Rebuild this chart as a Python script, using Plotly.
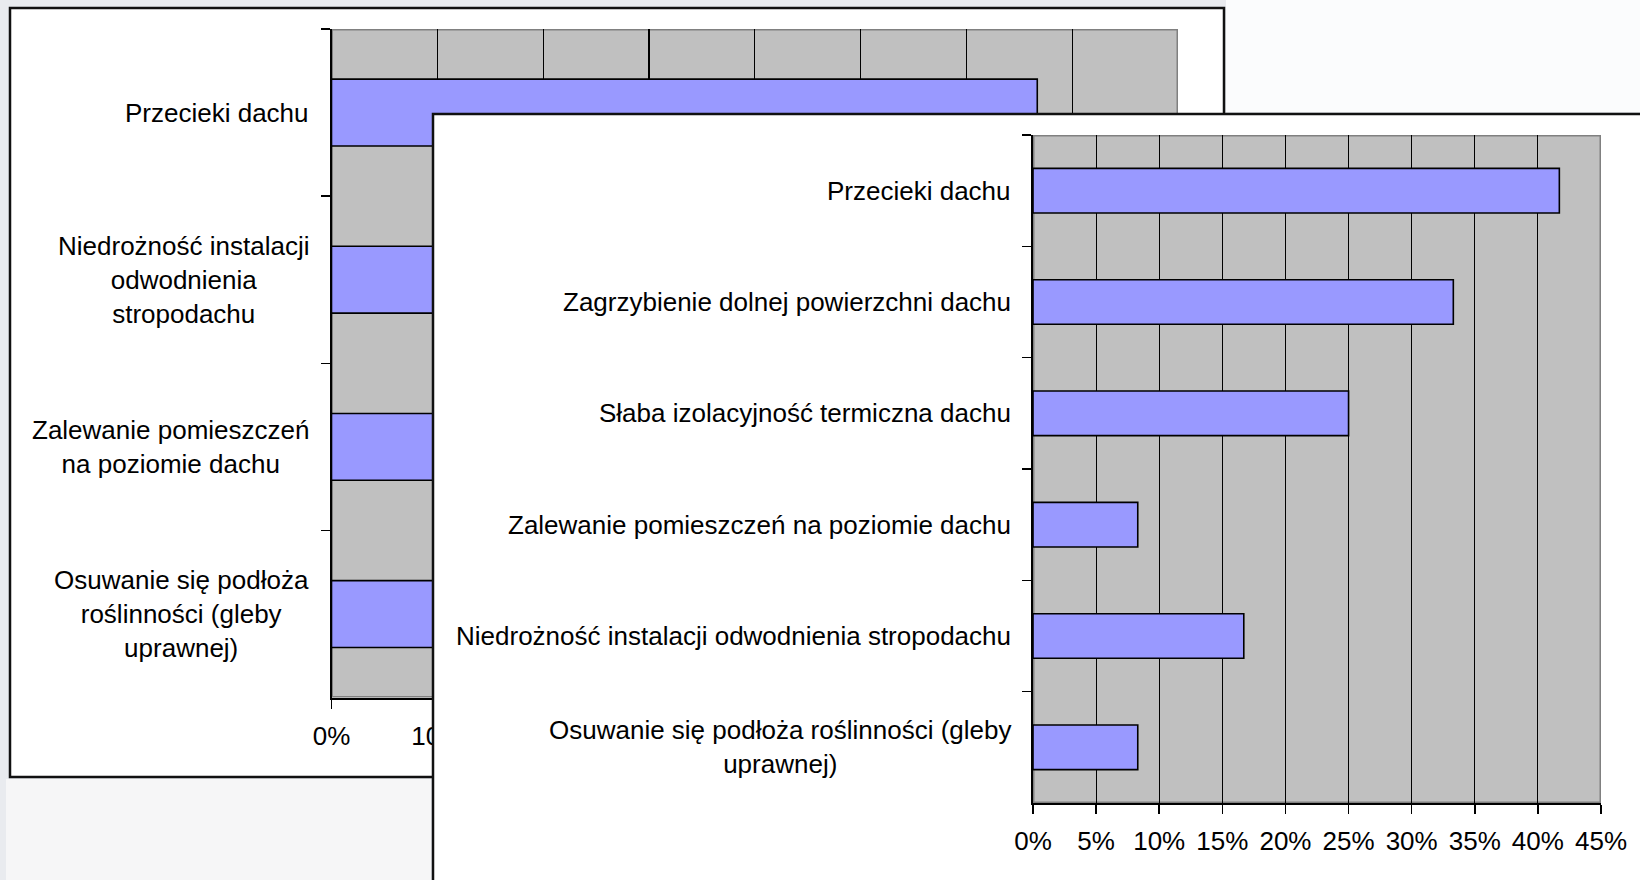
import plotly.graph_objects as go

# ---------------- data ----------------
back_categories = [
    "Przecieki dachu",
    "Niedrożność instalacji odwodnienia stropodachu",
    "Zalewanie pomieszczeń na poziomie dachu",
    "Osuwanie się podłoża roślinności (gleby uprawnej)",
]
back_labels = [
    "Przecieki dachu",
    "Niedrożność instalacji<br>odwodnienia<br>stropodachu",
    "Zalewanie pomieszczeń<br>na poziomie dachu",
    "Osuwanie się podłoża<br>roślinności (gleby<br>uprawnej)",
]
back_values = [0.667, 0.333, 0.167, 0.167]
back_tickvals = [0, 0.1, 0.2, 0.3, 0.4, 0.5, 0.6, 0.7, 0.8]
# only these tick labels are visible (the rest lie under the front chart)
back_ticktext = ["0%", "10%", "", "", "", "", "", "", ""]

front_categories = [
    "Przecieki dachu",
    "Zagrzybienie dolnej powierzchni dachu",
    "Słaba izolacyjność termiczna dachu",
    "Zalewanie pomieszczeń na poziomie dachu",
    "Niedrożność instalacji odwodnienia stropodachu",
    "Osuwanie się podłoża roślinności (gleby uprawnej)",
]
front_labels = [
    "Przecieki dachu",
    "Zagrzybienie dolnej powierzchni dachu",
    "Słaba izolacyjność termiczna dachu",
    "Zalewanie pomieszczeń na poziomie dachu",
    "Niedrożność instalacji odwodnienia stropodachu",
    "Osuwanie się podłoża roślinności (gleby<br>uprawnej)",
]
front_values = [0.417, 0.333, 0.25, 0.083, 0.167, 0.083]
front_tickvals = [0, 0.05, 0.10, 0.15, 0.20, 0.25, 0.30, 0.35, 0.40, 0.45]

# ---------------- layout geometry (pixels) ----------------
W, H = 1640, 880
FONT = "Liberation Sans, Arial, sans-serif"
FS = 26
BAR_COLOR = "#9999FF"
PLOT_GRAY = "#C0C0C0"


def px(x):
    return x / W


def py(y):
    return 1 - y / H


BACK_PLOT = (331.5, 1178, 29, 697.6)     # x0, x1, ytop, ybottom
FRONT_PLOT = (1033, 1601, 135, 803)
COVER_X0, COVER_Y0 = 431, 112

fig = go.Figure()

fig.add_trace(go.Bar(
    x=back_values, y=back_categories, orientation="h", width=0.4,
    marker=dict(color=BAR_COLOR, line=dict(color="black", width=1.6)),
    xaxis="x", yaxis="y", hoverinfo="skip", showlegend=False,
))
# carrier trace for the cover (front frame) subplot
fig.add_trace(go.Scatter(x=[], y=[], xaxis="x2", yaxis="y2",
                         hoverinfo="skip", showlegend=False))
fig.add_trace(go.Bar(
    x=front_values, y=front_categories, orientation="h", width=0.4,
    marker=dict(color=BAR_COLOR, line=dict(color="black", width=1.6)),
    xaxis="x3", yaxis="y3", hoverinfo="skip", showlegend=False,
))

xcommon = dict(
    ticks="outside", ticklen=9, tickwidth=1.5, tickcolor="black",
    showgrid=True, gridcolor="black", gridwidth=1.2,
    showline=True, linecolor="black", linewidth=2, zeroline=False,
    tickfont=dict(family=FONT, size=FS, color="black"), fixedrange=True,
    ticklabelstandoff=5, automargin=False,
)
ycommon = dict(
    type="category", tickson="boundaries", ticks="outside", ticklen=9,
    tickwidth=1.5, tickcolor="black", showticklabels=False, showgrid=False,
    showline=True, linecolor="black", linewidth=2, zeroline=False, fixedrange=True,
    automargin=False,
)

fig.update_layout(
    template="none",
    width=W, height=H,
    margin=dict(l=0, r=0, t=0, b=0, pad=0, autoexpand=False),
    paper_bgcolor="#E9EBEF",
    plot_bgcolor="rgba(0,0,0,0)",
    font=dict(family=FONT, size=FS, color="black"),
    showlegend=False,
    bargap=0,
    xaxis=dict(domain=[px(BACK_PLOT[0]), px(BACK_PLOT[1])], range=[0, 0.8],
               tickvals=back_tickvals, ticktext=back_ticktext, anchor="y", **xcommon),
    yaxis=dict(domain=[py(BACK_PLOT[3]), py(BACK_PLOT[2])], range=[3.5, -0.5],
               categoryorder="array", categoryarray=back_categories, anchor="x", **ycommon),
    xaxis2=dict(domain=[px(COVER_X0), 1], range=[COVER_X0, W], anchor="y2", visible=False,
                fixedrange=True, automargin=False),
    yaxis2=dict(domain=[0, py(COVER_Y0)], range=[H, COVER_Y0], anchor="x2", visible=False,
                fixedrange=True, automargin=False),
    xaxis3=dict(domain=[px(FRONT_PLOT[0]), px(FRONT_PLOT[1])], range=[0, 0.45],
                tickvals=front_tickvals, tickformat=".0%", anchor="y3", **xcommon),
    yaxis3=dict(domain=[py(FRONT_PLOT[3]), py(FRONT_PLOT[2])], range=[5.5, -0.5],
                categoryorder="array", categoryarray=front_categories, anchor="x3", **ycommon),
)

shapes = [
    # light page regions
    dict(type="rect", xref="paper", yref="paper", x0=px(1226), x1=1, y0=py(0), y1=py(112),
         fillcolor="#FBFCFD", line=dict(width=0), layer="below"),
    dict(type="rect", xref="paper", yref="paper", x0=px(6), x1=px(431), y0=py(779), y1=0,
         fillcolor="#F6F6F7", line=dict(width=0), layer="below"),
    # back chart frame
    dict(type="rect", xref="paper", yref="paper", x0=px(10), x1=px(1224), y0=py(8), y1=py(777),
         fillcolor="white", line=dict(color="#111111", width=2.5), layer="below"),
    # back plot area
    dict(type="rect", xref="x", yref="y", x0=0, x1=0.8, y0=-0.5, y1=3.5,
         fillcolor=PLOT_GRAY, line=dict(color="#808080", width=3), layer="below"),
    # front chart frame (covers the back chart)
    dict(type="rect", xref="x2", yref="y2", x0=433, x1=W + 60, y0=114, y1=H + 60,
         fillcolor="white", line=dict(color="#111111", width=2.5), layer="below"),
    # front plot area
    dict(type="rect", xref="x3", yref="y3", x0=0, x1=0.45, y0=-0.5, y1=5.5,
         fillcolor=PLOT_GRAY, line=dict(color="#808080", width=3), layer="below"),
]
fig.update_layout(shapes=shapes)

annotations = []
for cat, lab in zip(back_categories, back_labels):
    annotations.append(dict(
        xref="paper", x=px(311), xanchor="right", yref="y", y=cat, yanchor="middle",
        text=lab, align="center", showarrow=False,
        font=dict(family=FONT, size=FS, color="black"),
    ))
for cat, lab in zip(front_categories, front_labels):
    annotations.append(dict(
        xref="paper", x=px(1013), xanchor="right", yref="y3", y=cat, yanchor="middle",
        text=lab, align="center", showarrow=False,
        font=dict(family=FONT, size=FS, color="black"),
    ))
fig.update_layout(annotations=annotations)

fig.write_html(
    "out.html",
    config={"displayModeBar": False, "staticPlot": True},
    post_script="document.body.style.margin='0';document.body.style.overflow='hidden';",
)
